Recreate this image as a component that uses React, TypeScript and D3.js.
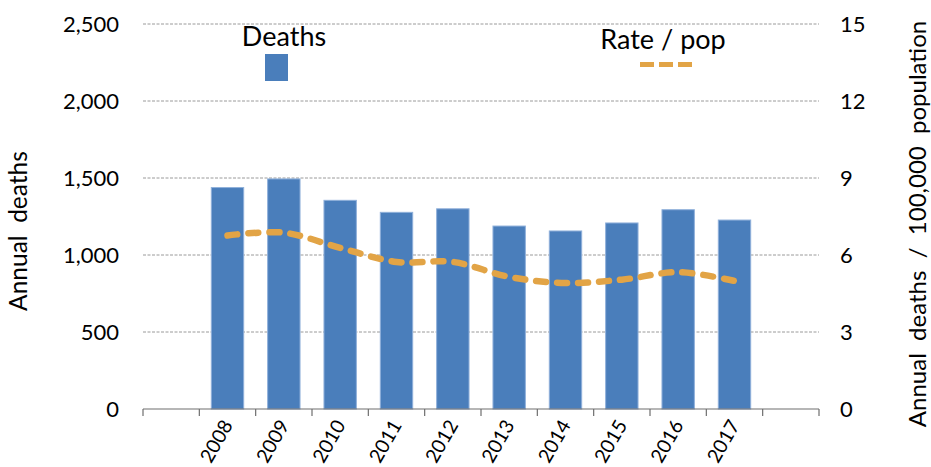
import React from 'react';
import * as d3 from 'd3';

const categories = ["", "2008", "2009", "2010", "2011", "2012", "2013", "2014", "2015", "2016", "2017", ""];
const years = ["2008", "2009", "2010", "2011", "2012", "2013", "2014", "2015", "2016", "2017"];
const deaths = [1438, 1494, 1355, 1277, 1300, 1188, 1156, 1208, 1294, 1227];
const ratePerPop = [6.76, 6.87, 6.28, 5.73, 5.73, 5.15, 4.91, 5.04, 5.33, 4.99];
const leftTicks = [0, 500, 1000, 1500, 2000, 2500];
const rightTicks = [0, 3, 6, 9, 12, 15];

const W = 931, H = 467;
const L = 143, R = 819, T = 24, B = 409;
const FONT = "Lato, 'Open Sans', sans-serif";
const BAR = '#4A7EBB';
const LINE = '#E2A446';

export default function App() {
  const keys = categories.map((_, i) => String(i));
  const x = d3.scaleBand<string>().domain(keys).range([L, R]).paddingInner(0).paddingOuter(0);
  const yL = d3.scaleLinear().domain([0, 2500]).range([B, T]);
  const yR = d3.scaleLinear().domain([0, 15]).range([B, T]);
  const bw = x.bandwidth() * 0.575;
  const center = (year: string) => (x(String(categories.indexOf(year))) as number) + x.bandwidth() / 2;

  const line = d3.line<number>()
    .x((_, i) => center(years[i]))
    .y((d) => yR(d))
    .curve(d3.curveCardinal.tension(0));

  const boundaries = keys.map((k) => x(k) as number).concat([R]);

  return (
    <svg width={W} height={H} style={{ position: 'absolute', left: 0, top: 0, background: '#fff' }} fontFamily={FONT}>
      {leftTicks.filter((t) => t > 0).map((t) => (
        <line key={'g' + t} x1={L} x2={R} y1={yL(t)} y2={yL(t)} stroke="#9a9a9a" strokeWidth={1} strokeDasharray="3,1.5" />
      ))}
      {years.map((yr, i) => (
        <rect key={yr} x={center(yr) - bw / 2} y={yL(deaths[i])} width={bw} height={B - yL(deaths[i])}
          fill={BAR} stroke="#8FB0DA" strokeWidth={1} />
      ))}
      <line x1={L} x2={R} y1={B} y2={B} stroke="#6e6e6e" strokeWidth={1.2} />
      {boundaries.map((bx, i) => (
        <line key={'t' + i} x1={bx} x2={bx} y1={B} y2={B + 7} stroke="#6e6e6e" strokeWidth={1.2} />
      ))}
      <path d={line(ratePerPop) || ''} fill="none" stroke={LINE} strokeWidth={6.5} strokeDasharray="10,11" strokeLinecap="round" />
      {leftTicks.map((t) => (
        <text key={'l' + t} x={119} y={yL(t)} dy="0.36em" textAnchor="end" fontSize={22} fill="#000">
          {d3.format(',')(t)}
        </text>
      ))}
      {rightTicks.map((t) => (
        <text key={'r' + t} x={840} y={yR(t)} dy="0.36em" textAnchor="start" fontSize={22} fill="#000">
          {t}
        </text>
      ))}
      {years.map((yr) => (
        <text key={'x' + yr} transform={`translate(${center(yr) + 6},${425}) rotate(-60)`} textAnchor="end" fontSize={19.5} fill="#000">
          {yr}
        </text>
      ))}
      <text transform={`translate(27,${231}) rotate(-90)`} textAnchor="middle" fontSize={24.5} fill="#000" style={{ whiteSpace: 'pre' }}>
        {'Annual  deaths'}
      </text>
      <text transform={`translate(926,${224}) rotate(-90)`} textAnchor="middle" fontSize={24} fill="#000" style={{ whiteSpace: 'pre' }}>
        {'Annual  deaths  /  100,000  population'}
      </text>
      <text x={284} y={46} textAnchor="middle" fontSize={27} fill="#000">Deaths</text>
      <rect x={265} y={54} width={23} height={27} fill={BAR} />
      <text x={663} y={49} textAnchor="middle" fontSize={27} fill="#000">Rate / pop</text>
      <line x1={640} x2={692} y1={64.5} y2={64.5} stroke={LINE} strokeWidth={5} strokeDasharray="14,5" />
    </svg>
  );
}
